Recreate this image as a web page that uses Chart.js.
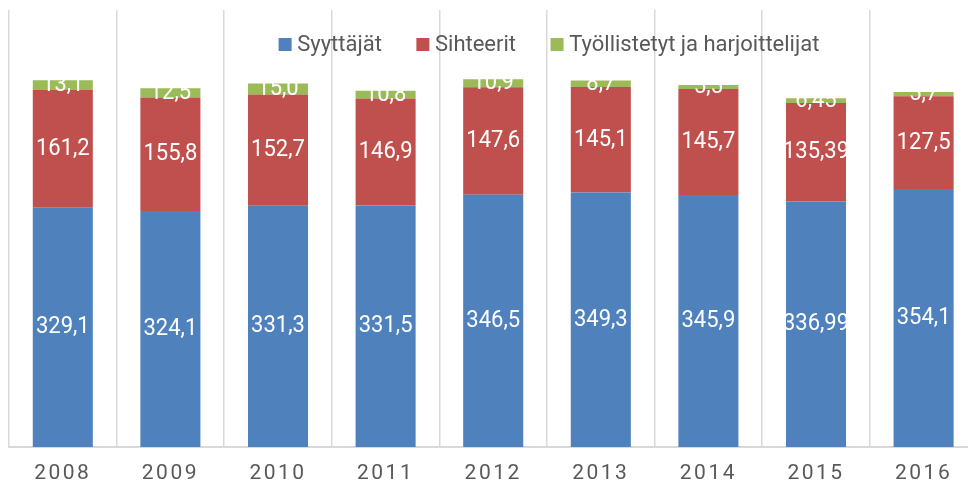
<!DOCTYPE html>
<html>
<head>
<meta charset="utf-8">
<script src="https://cdn.jsdelivr.net/npm/chart.js@4"></script>
<style>
  body { margin: 0; background: #fff; }
  #wrap { width: 968px; height: 488px; overflow: hidden; position: relative; }
  #chart { display: block; }
</style>
</head>
<body>
<div id="wrap"><canvas id="chart" width="978" height="488"></canvas></div>
<script>
// Chart data
const years = ['2008', '2009', '2010', '2011', '2012', '2013', '2014', '2015', '2016'];
const syyttajat = [329.1, 324.1, 331.3, 331.5, 346.5, 349.3, 345.9, 336.99, 354.1];
const sihteerit = [161.2, 155.8, 152.7, 146.9, 147.6, 145.1, 145.7, 135.39, 127.5];
const tyollistetyt = [13.1, 12.5, 15.0, 10.8, 10.9, 8.7, 5.5, 6.45, 5.7];

const colors = {
    blue: '#4F81BD',
    red: '#C0504D',
    green: '#9BBB59',
    text: '#595959',
    grid: '#D9D9D9'
};
const fontFamily = 'Roboto, "Noto Sans", sans-serif';

// Finnish style number: comma as decimal mark, at least one decimal
function fiNumber(v) {
    let s = String(v);
    if (s.indexOf('.') < 0) s += '.0';
    return s.replace('.', ',');
}

// White value labels centred in each segment, then letter spacing for the x ticks
const segmentLabels = {
    id: 'segmentLabels',
    afterDatasetsDraw(chart) {
        const ctx = chart.ctx;
        ctx.save();
        ctx.font = '22px ' + fontFamily;
        ctx.fillStyle = '#ffffff';
        ctx.textAlign = 'center';
        ctx.textBaseline = 'middle';
        chart.data.datasets.forEach((ds, i) => {
            const meta = chart.getDatasetMeta(i);
            meta.data.forEach((bar, j) => {
                const y = (bar.y + bar.base) / 2;
                ctx.save();
                ctx.translate(bar.x, y);
                ctx.scale(1, 1.1);
                ctx.fillText(fiNumber(ds.data[j]), 0, 0);
                ctx.restore();
            });
        });
        ctx.restore();
        ctx.letterSpacing = '2.5px';
    },
    afterDraw(chart) {
        chart.ctx.letterSpacing = '0px';
    }
};

// Legend sits inside the plot, on top of the grid lines
const innerLegend = {
    id: 'innerLegend',
    afterDraw(chart) {
        const ctx = chart.ctx;
        const box = 13, gap = 5.6, itemGap = 34.5;
        const centerX = 549, baseY = 51;
        ctx.save();
        ctx.font = '22px ' + fontFamily;
        ctx.textBaseline = 'alphabetic';
        ctx.textAlign = 'left';
        const items = chart.data.datasets.map(ds => ({
            text: ds.label,
            color: ds.backgroundColor,
            w: ctx.measureText(ds.label).width
        }));
        let total = 0;
        items.forEach((it, i) => {
            total += box + gap + it.w + (i ? itemGap : 0);
        });
        let x = centerX - total / 2;
        items.forEach(it => {
            ctx.fillStyle = it.color;
            ctx.fillRect(x, baseY - box, box, box);
            ctx.fillStyle = colors.text;
            ctx.fillText(it.text, x + box + gap, baseY);
            x += box + gap + it.w + itemGap;
        });
        ctx.restore();
    }
};

new Chart(document.getElementById('chart'), {
    type: 'bar',
    data: {
        labels: years,
        datasets: [{
            label: 'Syyttäjät',
            data: syyttajat,
            backgroundColor: colors.blue
        }, {
            label: 'Sihteerit',
            data: sihteerit,
            backgroundColor: colors.red
        }, {
            label: 'Työllistetyt ja harjoittelijat',
            data: tyollistetyt,
            backgroundColor: colors.green
        }]
    },
    options: {
        responsive: false,
        animation: false,
        layout: {
            padding: { left: 9, right: 0.6, top: 10, bottom: 0 }
        },
        datasets: {
            bar: {
                barPercentage: 1,
                categoryPercentage: 0.558
            }
        },
        plugins: {
            legend: { display: false },
            tooltip: { enabled: false }
        },
        scales: {
            x: {
                stacked: true,
                afterFit(scale) {
                    scale.height = 41;
                },
                grid: {
                    offset: true,
                    color: colors.grid,
                    lineWidth: 1.5,
                    drawTicks: false
                },
                border: { color: colors.grid, width: 2 },
                ticks: {
                    z: 1,
                    padding: 14,
                    color: colors.text,
                    font: { family: fontFamily, size: 21 }
                }
            },
            y: {
                stacked: true,
                display: false,
                min: 0,
                max: 600
            }
        }
    },
    plugins: [segmentLabels, innerLegend]
});
</script>
</body>
</html>
